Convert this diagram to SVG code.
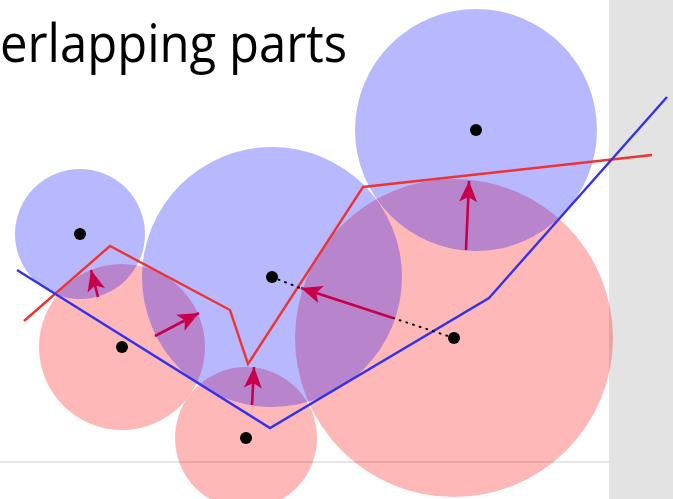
<svg xmlns="http://www.w3.org/2000/svg" width="673" height="499" viewBox="0 0 673 499">
  <defs>
    <marker id="head" markerUnits="userSpaceOnUse" markerWidth="26" markerHeight="22" viewBox="-22 -11 26 22" refX="0" refY="0" orient="auto">
      <path d="M0,0 L-21,-9 L-16,0 L-21,9 Z" fill="#c8004c"/>
    </marker>
  </defs>
  <style>
    .blue { fill: #0000ff; fill-opacity: 0.28; }
    .red { fill: #ff0000; fill-opacity: 0.28; }
    .dot { fill: #000; }
    .arrow { stroke: #c8004c; stroke-width: 2.6; fill: none; marker-end: url(#head); }
    .dotted { stroke: #000; stroke-width: 2; stroke-dasharray: 1 6; stroke-linecap: round; fill: none; }
    .title { font-family: "Open Sans", "Noto Sans", sans-serif; font-size: 53px; fill: #000; }
  </style>

  <rect x="0" y="0" width="673" height="499" fill="#ffffff"/>
  <rect x="609" y="0" width="64" height="499" fill="#e3e3e3"/>
  <line x1="0" y1="462" x2="609" y2="462" stroke="#dddddd" stroke-width="1.5"/>

  <text class="title" x="0" y="62" textLength="347" lengthAdjust="spacingAndGlyphs">erlapping parts</text>

  <!-- lower parts -->
  <g id="red-parts">
    <circle id="r1" class="red" cx="122" cy="347" r="83"/>
    <circle id="r2" class="red" cx="246" cy="438" r="71"/>
    <circle id="r3" class="red" cx="454" cy="338" r="159"/>
  </g>
  <!-- upper parts -->
  <g id="blue-parts">
    <circle id="b1" class="blue" cx="80" cy="234" r="65"/>
    <circle id="b2" class="blue" cx="272" cy="277" r="130"/>
    <circle id="b3" class="blue" cx="476" cy="130" r="121"/>
  </g>

  <g id="connectors">
    <polyline points="24,321 110,246 230,310 248,364 363,187 652,155" fill="none" stroke="#ee3333" stroke-width="2.4"/>
    <polyline points="17,270 270,428 489,298 667,97" fill="none" stroke="#3333ee" stroke-width="2.4"/>
    <line class="dotted" x1="272" y1="277" x2="300" y2="288"/>
    <line class="dotted" x1="393" y1="318" x2="454" y2="338"/>
    <line class="arrow" x1="98" y1="297" x2="91" y2="270"/>
    <line class="arrow" x1="155" y1="336" x2="199" y2="313"/>
    <line class="arrow" x1="252" y1="405" x2="254" y2="367"/>
    <line class="arrow" x1="393" y1="318" x2="301" y2="288"/>
    <line class="arrow" x1="466" y1="250" x2="469" y2="181"/>
  </g>

  <g id="centres">
    <circle class="dot" cx="80" cy="234" r="6"/>
    <circle class="dot" cx="272" cy="277" r="6"/>
    <circle class="dot" cx="476" cy="130" r="6"/>
    <circle class="dot" cx="122" cy="347" r="6"/>
    <circle class="dot" cx="246" cy="438" r="6"/>
    <circle class="dot" cx="454" cy="338" r="6"/>
  </g>
</svg>
